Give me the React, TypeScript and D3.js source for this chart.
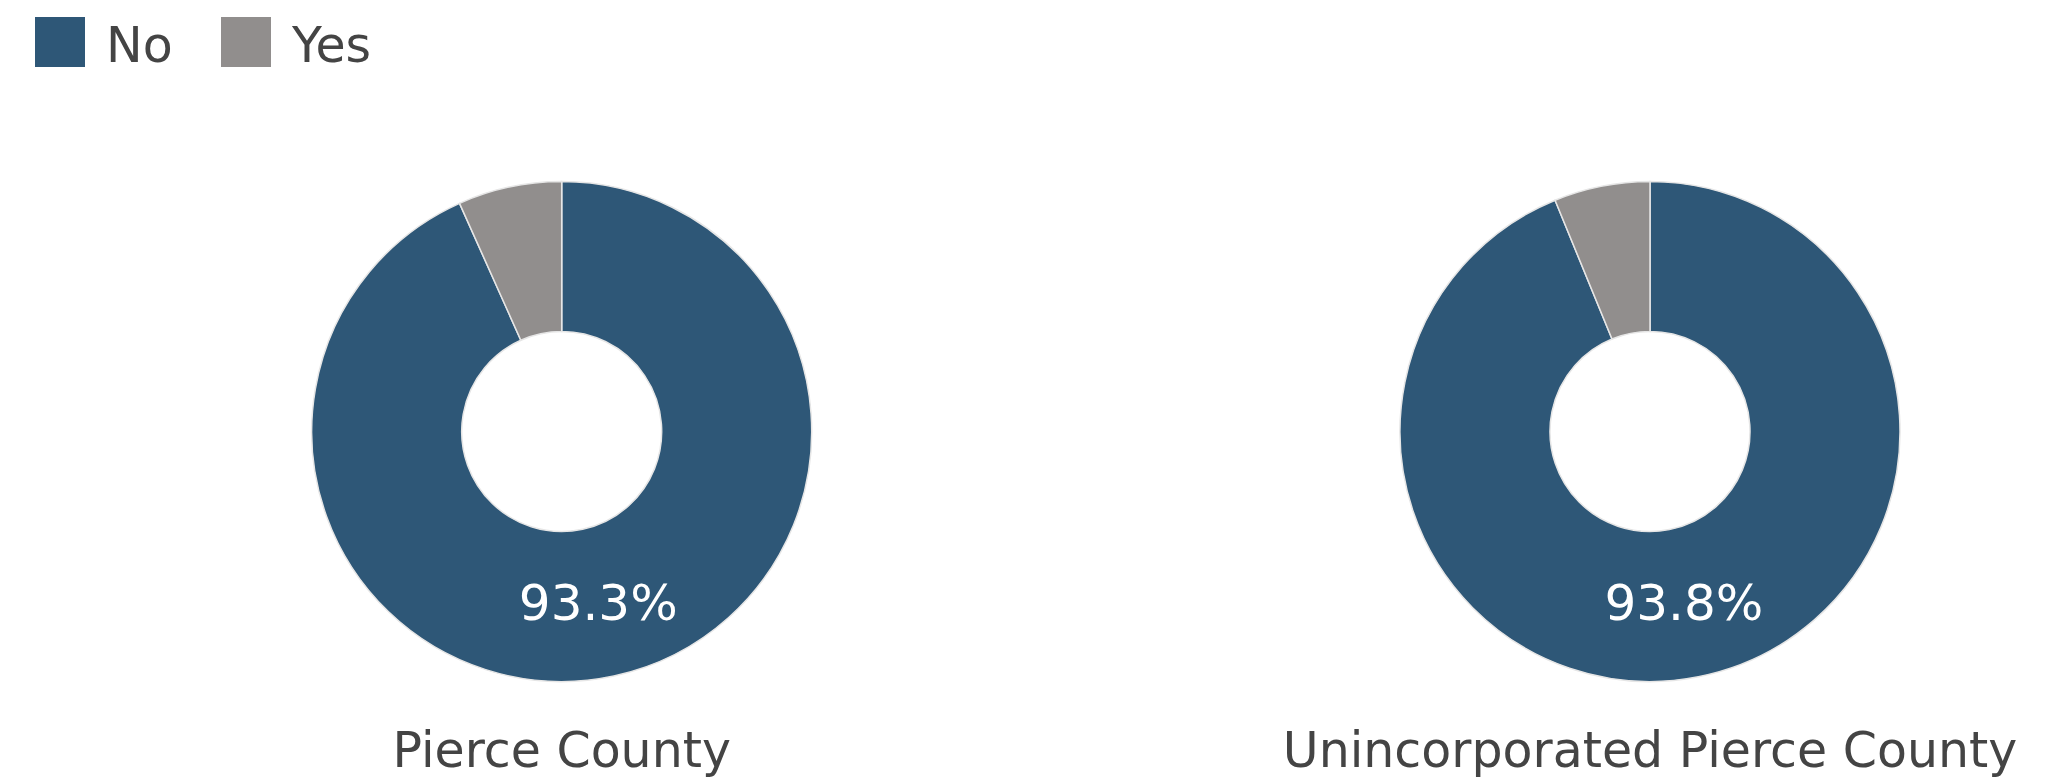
import React from "react";
import * as d3 from "d3";

const categories = ["No", "Yes"];
const regions = ["Pierce County", "Unincorporated Pierce County"];
const noValues = [93.3, 93.8];
const yesValues = [6.7, 6.2];
const colors = ["#2e5777", "#918e8d"];

const W = 2063;
const H = 782;
const FONT = "'DejaVu Sans', Verdana, sans-serif";

export default function App() {
  const outerR = 250;
  const innerR = 100;
  const centers = d3.scalePoint<string>().domain(regions).range([561.7, 1650]);
  const cy = 431.5;
  const pie = d3.pie<number>().sort(null).value((d) => d);
  const arc = d3.arc<d3.PieArcDatum<number>>().innerRadius(innerR).outerRadius(outerR);
  const color = d3.scaleOrdinal<string, string>().domain(categories).range(colors);

  return (
    <svg
      width={W}
      height={H}
      style={{ position: "absolute", left: 0, top: 0, background: "#fff" }}
      fontFamily={FONT}
    >
      {/* legend */}
      {categories.map((c, i) => {
        const x = [35, 221][i];
        return (
          <g key={c}>
            <rect x={x} y={17} width={50} height={50} fill={color(c)} />
            <text x={x + 71} y={62} fontSize={49} fill="#444">
              {c}
            </text>
          </g>
        );
      })}
      {regions.map((r, ri) => {
        const cx = centers(r) as number;
        const arcs = pie([noValues[ri], yesValues[ri]]);
        const noArc = arcs[0];
        const [lx, ly] = arc.centroid(noArc);
        return (
          <g key={r}>
            <g transform={`translate(${cx},${cy})`}>
              {arcs.map((a, i) => (
                <path
                  key={i}
                  d={arc(a) || ""}
                  fill={color(categories[i])}
                  stroke="#e6e6e6"
                  strokeWidth={1.5}
                />
              ))}
              <text
                x={lx}
                y={ly}
                fontSize={50}
                fill="#fff"
                textAnchor="middle"
                dominantBaseline="central"
              >
                {noValues[ri].toFixed(1)}%
              </text>
            </g>
            <text x={cx} y={766.7} fontSize={49} fill="#444" textAnchor="middle">
              {r}
            </text>
          </g>
        );
      })}
    </svg>
  );
}
